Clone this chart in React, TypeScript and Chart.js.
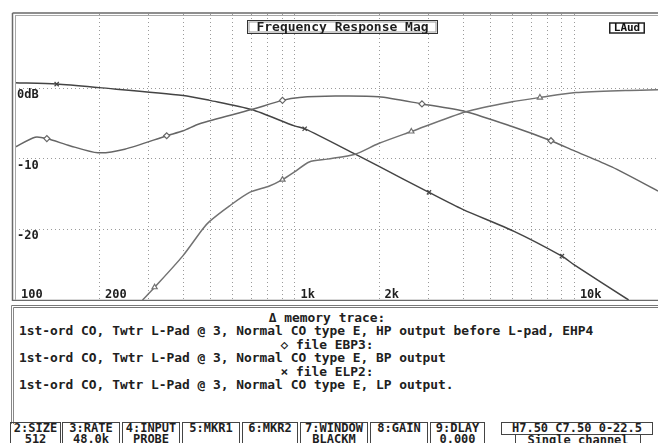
import React, { useEffect, useRef } from "react";
import { Chart, registerables } from "chart.js";

Chart.register(...registerables);

// HP output (memory trace, triangles)
const hpFreq = [286, 316, 398, 469, 497, 586, 691, 814, 906, 1000, 1130, 1312, 1650, 2000, 2620, 4110, 6010, 7560, 10160, 15300, 20000];
const hpDb = [-30, -28.2, -23.8, -20, -18.9, -16.7, -14.8, -13.9, -13.0, -11.9, -10.5, -10.1, -9.4, -7.9, -6.2, -3.4, -2.0, -1.4, -0.7, -0.4, -0.3];
const hpMarks = [1, 8, 14, 17];

// BP output (file EBP3, diamonds)
const bpFreq = [100, 118, 130, 157, 198, 247, 349, 400, 458, 702, 906, 1042, 1400, 2000, 2860, 4110, 6010, 8280, 10000, 13670, 20000];
const bpDb = [-8.4, -7.0, -7.2, -8.2, -9.2, -8.7, -6.8, -6.1, -5.1, -3.1, -1.8, -1.4, -1.2, -1.3, -2.3, -3.4, -5.5, -7.5, -8.9, -11.2, -14.6];
const bpMarks = [2, 6, 10, 14, 17];

// LP output (file ELP2, crosses)
const lpFreq = [100, 141, 200, 400, 497, 702, 1000, 1088, 1650, 2000, 3030, 4000, 6110, 9060, 10000, 15700];
const lpDb = [0.7, 0.5, 0, -1.1, -1.8, -3.1, -5.4, -5.8, -9.4, -11.1, -14.8, -17.2, -20.3, -23.8, -25, -30];
const lpMarks = [1, 7, 10, 13];

const xGridValues = [200, 300, 400, 500, 600, 700, 800, 900, 1000, 2000, 3000, 4000, 5000, 6000, 7000, 8000, 9000, 10000];
const xTickValues = [100, 200, 1000, 2000, 10000];
const xTickLabels = ["100", "200", "1k", "2k", "10k"];
const yTickValues = [0, -10, -20];
const yTickLabels = ["0dB", "-10", "-20"];

const chartTitle = "Frequency Response Mag";
const cornerTag = "LAud";

const legendLines = [
  { text: "Δ memory trace:", center: true },
  { text: "1st-ord CO, Twtr L-Pad @ 3, Normal CO type E, HP output before L-pad, EHP4", center: false },
  { text: "◇ file EBP3:", center: true },
  { text: "1st-ord CO, Twtr L-Pad @ 3, Normal CO type E, BP output", center: false },
  { text: "× file ELP2:", center: true },
  { text: "1st-ord CO, Twtr L-Pad @ 3, Normal CO type E, LP output.", center: false },
];

const statusKeys = ["2:SIZE", "3:RATE", "4:INPUT", "5:MKR1", "6:MKR2", "7:WINDOW", "8:GAIN", "9:DLAY"];
const statusVals = ["512", "48.0k", "PROBE", "", "", "BLACKM", "", "0.000"];
const statusInfo = "H7.50 C7.50 0-22.5";
const statusMode = "Single channel";

const MONO = "'DejaVu Sans Mono', 'Liberation Mono', monospace";

const scopePlugin = {
  id: "scopeDecor",
  beforeDatasetsDraw(chart: any) {
    const { ctx, chartArea: a, scales } = chart;
    const x = scales.x;
    const y = scales.y;
    ctx.save();
    ctx.strokeStyle = "#9a9a9a";
    ctx.lineWidth = 1;
    ctx.setLineDash([1, 3]);
    for (const v of xGridValues) {
      const px = Math.round(x.getPixelForValue(v)) + 0.5;
      ctx.beginPath();
      ctx.moveTo(px, a.top);
      ctx.lineTo(px, a.bottom);
      ctx.stroke();
    }
    for (const v of yTickValues) {
      const py = Math.round(y.getPixelForValue(v)) + 0.5;
      ctx.beginPath();
      ctx.moveTo(a.left, py);
      ctx.lineTo(a.right, py);
      ctx.stroke();
    }
    ctx.setLineDash([]);
    ctx.fillStyle = "#1e1e1e";
    ctx.font = "bold 12px " + MONO;
    ctx.textBaseline = "top";
    ctx.textAlign = "left";
    yTickValues.forEach((v, i) => {
      ctx.fillText(yTickLabels[i], a.left + 2, y.getPixelForValue(v) + 1);
    });
    ctx.textBaseline = "alphabetic";
    xTickValues.forEach((v, i) => {
      ctx.fillText(xTickLabels[i], x.getPixelForValue(v) + 6, a.bottom - 2);
    });
    ctx.restore();
  },
  afterDraw(chart: any) {
    const { ctx, chartArea: a, width } = chart;
    ctx.save();
    // frame
    ctx.strokeStyle = "#6a6a6a";
    ctx.lineWidth = 1.5;
    ctx.beginPath();
    ctx.moveTo(12.5, a.top - 1);
    ctx.lineTo(width, a.top - 1);
    ctx.moveTo(12.5, a.top - 1);
    ctx.lineTo(12.5, chart.height);
    ctx.moveTo(12.5, a.bottom + 0.5);
    ctx.lineTo(width, a.bottom + 0.5);
    ctx.stroke();
    ctx.strokeStyle = "#a8a8a8";
    ctx.lineWidth = 1;
    ctx.beginPath();
    ctx.moveTo(15, a.top + 1.5);
    ctx.lineTo(width, a.top + 1.5);
    ctx.moveTo(15.5, a.top + 1.5);
    ctx.lineTo(15.5, a.bottom);
    ctx.stroke();
    // title box
    const cx = (a.left + a.right) / 2 + 6;
    ctx.font = "bold 13px " + MONO;
    const tw = ctx.measureText(chartTitle).width;
    const bx = Math.round(cx - tw / 2 - 9) + 0.5;
    const bw = Math.round(tw + 18);
    ctx.fillStyle = "#ffffff";
    ctx.fillRect(bx, a.top + 6, bw, 13);
    ctx.strokeStyle = "#333";
    ctx.lineWidth = 1;
    ctx.strokeRect(bx, a.top + 6.5, bw, 13);
    ctx.strokeStyle = "#999";
    ctx.strokeRect(bx + 1.5, a.top + 8, bw - 3, 10);
    ctx.fillStyle = "#1e1e1e";
    ctx.textAlign = "center";
    ctx.textBaseline = "middle";
    ctx.fillText(chartTitle, cx, a.top + 13.5);
    // corner tag
    ctx.font = "bold 11px " + MONO;
    const cw = ctx.measureText(cornerTag).width;
    const tx = 627;
    ctx.fillStyle = "#fff";
    ctx.fillRect(tx - cw / 2 - 4, a.top + 9, cw + 8, 10);
    ctx.strokeStyle = "#222";
    ctx.lineWidth = 1.5;
    ctx.strokeRect(tx - cw / 2 - 4, a.top + 9, cw + 8, 10);
    ctx.fillStyle = "#111";
    ctx.fillText(cornerTag, tx, a.top + 14.5);
    ctx.restore();
  },
};

function makeSet(label: string, fx: number[], fy: number[], marks: number[], style: string, color: string) {
  return {
    label,
    data: fx.map((f, i) => ({ x: f, y: fy[i] })),
    borderColor: color,
    borderWidth: 1.5,
    tension: 0.25,
    pointStyle: style,
    pointRadius: (c: any) => (marks.includes(c.dataIndex) ? 3 : 0),
    pointHoverRadius: 0,
    pointBackgroundColor: "#ffffff",
    pointBorderColor: color,
    pointBorderWidth: 1.2,
  };
}

export default function App() {
  const ref = useRef<HTMLCanvasElement | null>(null);
  useEffect(() => {
    if (!ref.current) return;
    const chart = new Chart(ref.current, {
      type: "line",
      data: {
        datasets: [
          makeSet("HP", hpFreq, hpDb, hpMarks, "triangle", "#727272"),
          makeSet("BP", bpFreq, bpDb, bpMarks, "rectRot", "#666666"),
          makeSet("LP", lpFreq, lpDb, lpMarks, "crossRot", "#444444"),
        ],
      },
      options: {
        responsive: false,
        animation: false,
        devicePixelRatio: 1,
        layout: { padding: { left: 15, top: 14, right: 0, bottom: 1 } },
        plugins: { legend: { display: false }, tooltip: { enabled: false }, title: { display: false } },
        events: [],
        scales: {
          x: { type: "logarithmic", min: 100, max: 20000, display: false },
          y: { type: "linear", min: -30, max: 10.4, display: false },
        },
      },
      plugins: [scopePlugin],
    } as any);
    return () => chart.destroy();
  }, []);

  const boxL = [10, 62, 122, 182, 242, 300, 370, 430];
  const boxR = [61, 120, 180, 240, 298, 368, 428, 485];
  const lineTops = [311, 324, 338, 351, 365, 378];

  return (
    <div style={{ position: "fixed", left: 0, top: 0, width: 658, height: 443, overflow: "hidden", background: "#fff" }}>
      <canvas ref={ref} width={658} height={301} style={{ position: "absolute", left: 0, top: 0, width: 658, height: 301 }} />
      <div style={{ position: "absolute", left: 11, top: 305, width: 660, height: 116, borderTop: "3px double #777", borderLeft: "3px double #888" }} />
      {legendLines.map((l, i) => (
        <div
          key={i}
          style={{
            position: "absolute",
            top: lineTops[i],
            left: l.center ? 14 : 19,
            width: l.center ? 626 : 640,
            textAlign: l.center ? "center" : "left",
            font: "bold 12.9px " + MONO,
            lineHeight: "14px",
            color: "#202020",
            whiteSpace: "pre",
          }}
        >
          {l.text}
        </div>
      ))}
      {statusKeys.map((k, i) => (
        <div
          key={k}
          style={{
            position: "absolute",
            left: boxL[i],
            top: 422,
            width: boxR[i] - boxL[i] - 2,
            height: 24,
            border: "1px solid #444",
            font: "bold 12px " + MONO,
            lineHeight: "11px",
            color: "#1e1e1e",
            textAlign: "center",
            whiteSpace: "pre",
          }}
        >
          <div>{k}</div>
          <div>{statusVals[i]}</div>
        </div>
      ))}
      <div
        style={{
          position: "absolute",
          left: 501,
          top: 422,
          width: 150,
          height: 11,
          border: "1px solid #444",
          font: "bold 12px " + MONO,
          lineHeight: "11px",
          color: "#1e1e1e",
          textAlign: "center",
          whiteSpace: "pre",
        }}
      >
        {statusInfo}
      </div>
      <div
        style={{
          position: "absolute",
          left: 515,
          top: 434,
          width: 124,
          height: 12,
          border: "1px solid #444",
          font: "bold 12px " + MONO,
          lineHeight: "11px",
          color: "#1e1e1e",
          textAlign: "center",
          whiteSpace: "pre",
        }}
      >
        {statusMode}
      </div>
    </div>
  );
}
